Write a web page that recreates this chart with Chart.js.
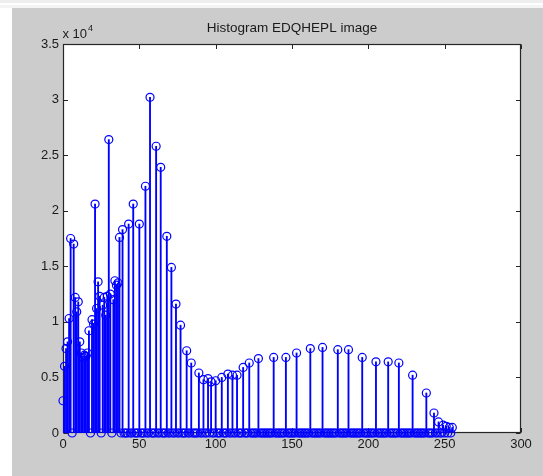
<!DOCTYPE html>
<html>
<head>
<meta charset="utf-8">
<script src="https://cdn.jsdelivr.net/npm/chart.js@4"></script>
<style>
html,body{margin:0;padding:0;background:#fff;}
#wrap{position:relative;width:543px;height:476px;}
</style>
</head>
<body>
<div id="wrap"><canvas id="c" width="543" height="476"></canvas></div>
<script>
// ---- data ----
const titleText = "Histogram EDQHEPL image";
const nBins = 256;                       // histogram bins 0..255 (others are zero)
const stemBins = [0,1,2,3,4,5,7,8,9,10,11,12,13,14,15,16,17,19,20,21,22,23,24,26,27,28,29,30,31,33,34,35,36,37,
  39,43,46,50,54,57,61,64,68,71,74,77,81,84,89,92,95,97,100,104,108,111,114,118,122,128,138,146,153,162,170,180,
  187,196,205,213,220,229,238,243,246,249,251,253,255];
const stemCounts = [2900,6000,7600,8200,10300,17500,17000,12200,10900,11800,8200,7200,6800,7000,6900,7200,9200,10200,9800,20600,11200,13600,12300,11500,12200,10600,12300,26400,12500,12000,13700,13300,13500,17600,
  18300,18800,20600,18800,22200,30200,25800,23900,17700,14900,11600,9700,7400,6300,5400,4800,4900,4600,4700,5000,5300,5200,5200,5900,6300,6700,6800,6800,7200,7600,7700,7500,
  7500,6800,6400,6400,6300,5200,3600,1800,1000,700,600,500,500];
const xTicks = [0,50,100,150,200,250,300];
const yTicks = [0,5000,10000,15000,20000,25000,30000,35000];
const yTickLabels = ["0","0.5","1","1.5","2","2.5","3","3.5"];
const yExponentLabel = ["x 10","4"];

// full histogram table built from the arrays above
const hist = [];
for (let i = 0; i < nBins; i++) hist.push({x: i, y: 0});
stemBins.forEach((b, k) => { hist[b].y = stemCounts[k]; });

const FONT = '"Liberation Sans", Arial, sans-serif';
const BLUE = '#0000ff';

const decor = {
  id: 'decor',
  beforeDraw(chart) {
    const ctx = chart.ctx, W = chart.width, H = chart.height;
    ctx.save();
    ctx.fillStyle = '#ffffff'; ctx.fillRect(0, 0, W, H);
    ctx.fillStyle = '#cccccc'; ctx.fillRect(12, 8, W - 12, H - 8);
    ctx.fillStyle = '#eeeeee'; ctx.fillRect(0, 0, W, 3);
    ctx.fillStyle = '#f4f4f4'; ctx.fillRect(0, 5, W, 3);
    const a = chart.chartArea;
    ctx.fillStyle = '#ffffff';
    ctx.fillRect(a.left, a.top, a.right - a.left, a.bottom - a.top);
    // title
    ctx.fillStyle = '#1a1a1a';
    ctx.font = '13.5px ' + FONT;
    ctx.textAlign = 'center'; ctx.textBaseline = 'alphabetic';
    ctx.fillText(titleText, (a.left + a.right) / 2, 32);
    // exponent label
    ctx.textAlign = 'left';
    ctx.font = '13px ' + FONT;
    ctx.fillText(yExponentLabel[0], a.left - 0.5, 38);
    const w = ctx.measureText(yExponentLabel[0]).width;
    ctx.font = '9px ' + FONT;
    ctx.fillText(yExponentLabel[1], a.left - 0.5 + w + 1, 31);
    ctx.restore();
  },
  beforeDatasetsDraw(chart) {
    const ctx = chart.ctx, a = chart.chartArea;
    const xs = chart.scales.x, ys = chart.scales.y;
    ctx.save();
    ctx.strokeStyle = '#262626';
    ctx.lineWidth = 1.2;
    const L = Math.round(a.left) + 0.5, R = Math.round(a.right) - 0.5;
    const T = Math.round(a.top) + 0.5, B = Math.round(a.bottom) - 0.5;
    ctx.strokeRect(L, T, R - L, B - T);
    ctx.lineWidth = 1;
    const tl = 4.5;
    ctx.beginPath();
    xTicks.forEach(v => {
      const px = Math.round(xs.getPixelForValue(v)) + 0.5;
      ctx.moveTo(px, B); ctx.lineTo(px, B - tl);
      ctx.moveTo(px, T); ctx.lineTo(px, T + tl);
    });
    yTicks.forEach(v => {
      const py = Math.round(ys.getPixelForValue(v)) + 0.5;
      ctx.moveTo(L, py); ctx.lineTo(L + tl, py);
      ctx.moveTo(R, py); ctx.lineTo(R - tl, py);
    });
    ctx.stroke();
    ctx.restore();
  }
};

new Chart(document.getElementById('c'), {
  type: 'bar',
  data: {
    datasets: [
      {
        type: 'scatter',
        data: hist,
        showLine: false,
        pointStyle: 'circle',
        pointRadius: 4,
        pointBorderWidth: 1.2,
        pointBackgroundColor: 'rgba(0,0,0,0)',
        pointBorderColor: BLUE,
        clip: false
      },
      {
        type: 'bar',
        data: hist,
        backgroundColor: BLUE,
        borderWidth: 0,
        barThickness: 1.2,
        grouped: false
      }
    ]
  },
  options: {
    responsive: false,
    animation: false,
    devicePixelRatio: 1,
    layout: { padding: { left: 0, right: 22, top: 44, bottom: 0 } },
    plugins: { legend: { display: false }, tooltip: { enabled: false }, title: { display: false } },
    scales: {
      x: {
        type: 'linear',
        offset: false,
        min: 0, max: 300,
        afterFit: s => { s.height = 43; },
        afterBuildTicks: s => { s.ticks = xTicks.map(v => ({ value: v })); },
        grid: { display: false, drawTicks: false, offset: false },
        border: { display: false },
        ticks: {
          padding: 4,
          color: '#1a1a1a',
          font: { family: FONT, size: 13 },
          maxRotation: 0,
          autoSkip: false,
          callback: v => String(v)
        }
      },
      y: {
        type: 'linear',
        min: 0, max: 35000,
        afterFit: s => { s.width = 63; },
        afterBuildTicks: s => { s.ticks = yTicks.map(v => ({ value: v })); },
        grid: { display: false, drawTicks: false },
        border: { display: false },
        ticks: {
          padding: 4,
          color: '#1a1a1a',
          font: { family: FONT, size: 13 },
          autoSkip: false,
          callback: (v) => yTickLabels[yTicks.indexOf(v)]
        }
      }
    }
  },
  plugins: [decor]
});
</script>
</body>
</html>
